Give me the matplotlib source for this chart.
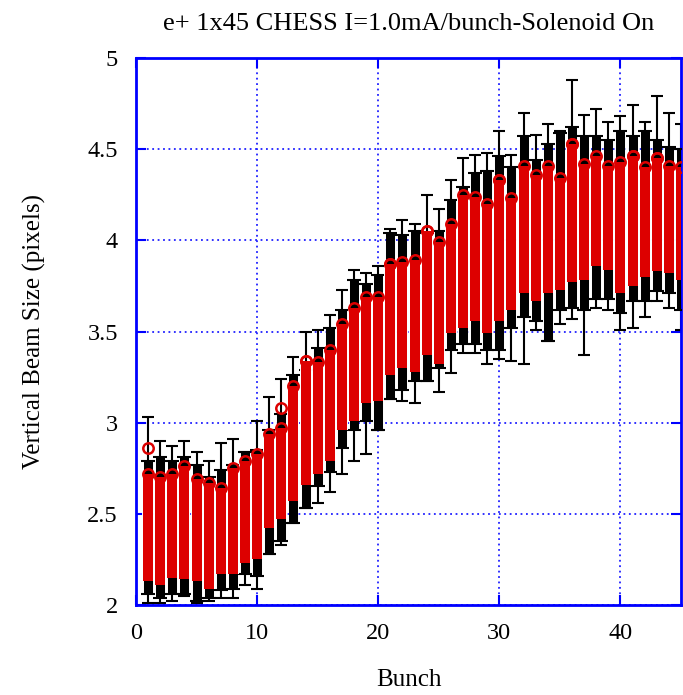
import matplotlib.pyplot as plt
import numpy as np

plt.rcParams['font.family'] = ['Liberation Serif', 'DejaVu Serif']

# per-bunch extents
bunch = list(range(1, 46))
whisker_hi = [3.03, 2.90, 2.87, 2.90, 2.84, 2.79, 2.89, 2.91, 2.84, 3.01,
              3.14, 3.24, 3.36, 3.50, 3.51, 3.59, 3.73, 3.84, 3.82, 3.86,
              4.06, 4.11, 4.09, 4.25, 4.17, 4.33, 4.45, 4.47, 4.48, 4.60,
              4.47, 4.70, 4.58, 4.64, 4.60, 4.88, 4.69, 4.72, 4.65, 4.68,
              4.74, 4.65, 4.79, 4.70, 4.64]
black_hi = [2.79, 2.81, 2.79, 2.81, 2.77, 2.70, 2.74, 2.77, 2.84, 2.85,
            2.96, 3.05, 3.26, 3.29, 3.41, 3.52, 3.62, 3.78, 3.76, 3.81,
            4.04, 4.03, 4.05, 4.04, 4.05, 4.22, 4.29, 4.37, 4.38, 4.46,
            4.40, 4.57, 4.44, 4.53, 4.59, 4.62, 4.57, 4.57, 4.55, 4.60,
            4.57, 4.60, 4.55, 4.51, 4.50]
red_hi = [2.72, 2.70, 2.72, 2.76, 2.69, 2.67, 2.64, 2.75, 2.79, 2.83,
          2.94, 2.97, 3.20, 3.34, 3.33, 3.40, 3.54, 3.63, 3.69, 3.69,
          3.87, 3.88, 3.89, 4.05, 3.99, 4.09, 4.25, 4.24, 4.20, 4.33,
          4.23, 4.41, 4.36, 4.41, 4.34, 4.53, 4.42, 4.46, 4.41, 4.43,
          4.46, 4.40, 4.45, 4.41, 4.40]
red_lo = [2.13, 2.11, 2.15, 2.14, 2.13, 2.09, 2.17, 2.17, 2.23, 2.25,
          2.42, 2.47, 2.57, 2.66, 2.72, 2.79, 2.96, 3.01, 3.11, 3.12,
          3.26, 3.30, 3.28, 3.37, 3.32, 3.49, 3.52, 3.56, 3.49, 3.56,
          3.62, 3.71, 3.67, 3.71, 3.73, 3.77, 3.78, 3.86, 3.84, 3.71,
          3.75, 3.80, 3.83, 3.82, 3.78]
black_lo = [2.06, 2.04, 2.06, 2.06, 2.02, 2.04, 2.08, 2.09, 2.17, 2.16,
            2.28, 2.35, 2.45, 2.53, 2.65, 2.73, 2.86, 2.96, 3.01, 2.96,
            3.13, 3.18, 3.23, 3.23, 3.30, 3.40, 3.43, 3.43, 3.40, 3.40,
            3.52, 3.58, 3.56, 3.45, 3.62, 3.63, 3.62, 3.68, 3.68, 3.60,
            3.67, 3.67, 3.72, 3.71, 3.62]
whisker_lo = [2.01, 2.01, 2.02, 2.05, 2.01, 2.02, 2.04, 2.04, 2.11, 2.09,
              2.28, 2.33, 2.45, 2.53, 2.56, 2.62, 2.72, 2.79, 2.83, 2.96,
              3.13, 3.12, 3.11, 3.23, 3.17, 3.27, 3.38, 3.38, 3.32, 3.35,
              3.34, 3.32, 3.51, 3.45, 3.54, 3.57, 3.37, 3.63, 3.62, 3.51,
              3.52, 3.58, 3.67, 3.63, 3.51]
# isolated red circles
red_out_x = [1, 12, 14, 21, 24, 30, 36, 41, 43]
red_out_y = [2.86, 3.08, 3.34, 3.87, 4.05, 4.33, 4.53, 4.46, 4.45]

x = np.array(bunch)
wh, wl = np.array(whisker_hi), np.array(whisker_lo)

fig = plt.figure(figsize=(6.83, 6.95), dpi=100)
ax = fig.add_axes([136/683, 1 - 605/695, 545/683, 547/695])

ax.grid(True, color='#2020ff', linestyle=(0, (1, 2)), linewidth=1.3, zorder=0)

# whiskers
ax.errorbar(x, (wh + wl) / 2, yerr=(wh - wl) / 2, fmt='none', ecolor='black',
            elinewidth=1.5, capsize=4, capthick=1.5, zorder=2)
# black boxes
ax.vlines(x, black_lo, black_hi, colors='black', linewidth=6.5, zorder=3)
ax.plot(x, black_hi, '_', color='black', ms=10, mew=1.5, zorder=3)
ax.plot(x, black_lo, '_', color='black', ms=10, mew=1.5, zorder=3)
# red bands
ax.vlines(x, red_lo, red_hi, colors='white', linewidth=8.6, zorder=4)
ax.vlines(x, red_lo, red_hi, colors='#dd0000', linewidth=7.2, zorder=5)
ax.plot(x, red_hi, 'o', mfc='none', mec='#dd0000', ms=7.5, mew=1.8, zorder=6)
ax.plot(red_out_x, red_out_y, 'o', mfc='none', mec='#dd0000', ms=7.5, mew=1.8, zorder=6)

ax.set_xlim(0, 45)
ax.set_ylim(2, 5)
ax.set_xticks([0, 10, 20, 30, 40])
ax.set_yticks([2, 2.5, 3, 3.5, 4, 4.5, 5])
ax.set_yticklabels(['2', '2.5', '3', '3.5', '4', '4.5', '5'])
ax.tick_params(direction='in', length=7, width=1.5, color='#0000ff',
               top=True, right=True, labelsize=17.5, pad=13)
for s in ax.spines.values():
    s.set_color('#0000ff')
    s.set_linewidth(2)

ax.set_title('e+ 1x45 CHESS I=1.0mA/bunch-Solenoid On', fontsize=19, pad=20)
ax.set_xlabel('Bunch', fontsize=18, labelpad=18)
ax.set_ylabel('Vertical Beam Size (pixels)', fontsize=18, labelpad=30)

fig.savefig('out.png', dpi=100)
